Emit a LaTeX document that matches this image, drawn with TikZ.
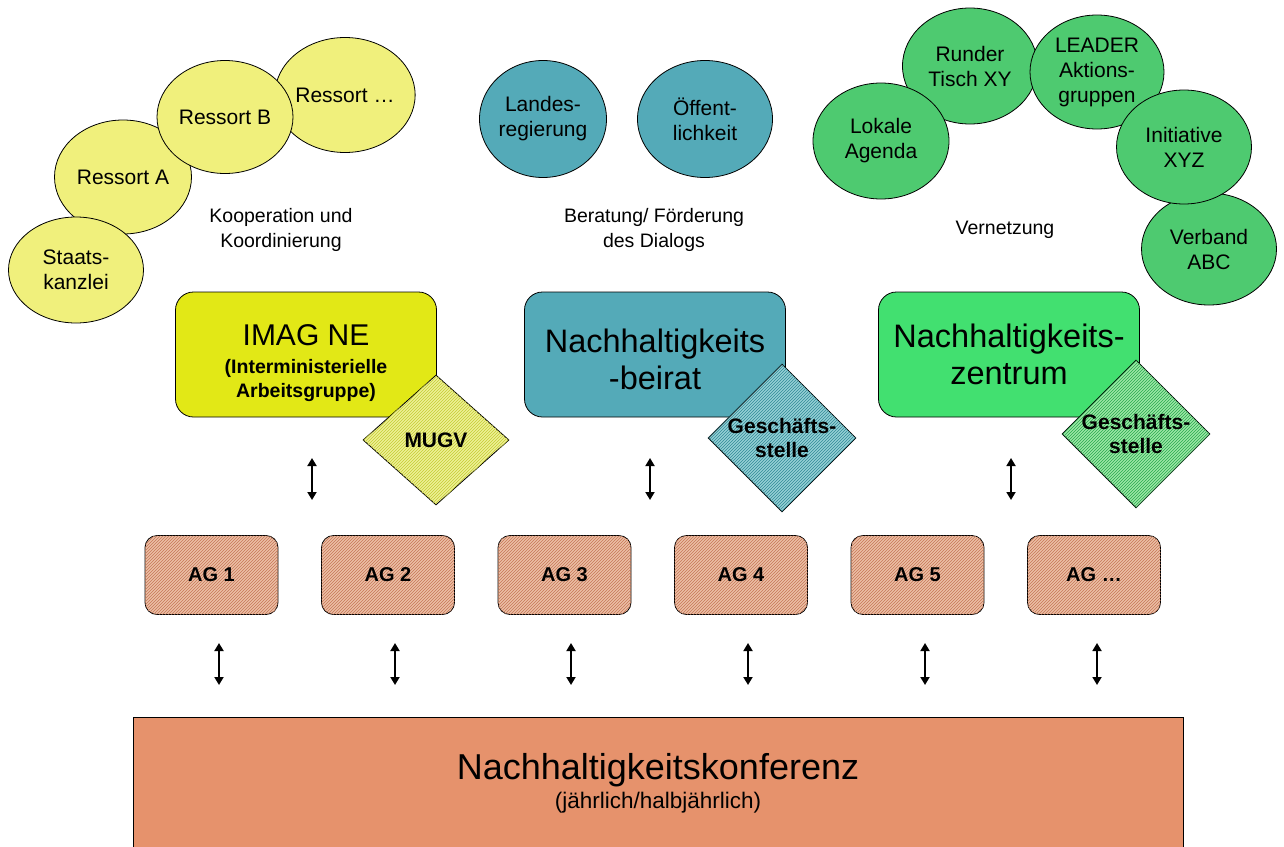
\documentclass[tikz,border=0pt]{standalone}
\usepackage{fontspec}
\setmainfont{Liberation Sans}
\usetikzlibrary{arrows.meta,shapes.geometric,patterns}
\definecolor{koyellow}{RGB}{240,240,124}
\definecolor{imagyellow}{RGB}{226,232,22}
\definecolor{mugvfill}{RGB}{238,240,150}
\definecolor{mugvline}{RGB}{196,204,50}
\definecolor{beteal}{RGB}{84,170,184}
\definecolor{begsfill}{RGB}{150,208,214}
\definecolor{begsline}{RGB}{48,138,150}
\definecolor{nzgreen}{RGB}{78,202,112}
\definecolor{nzbox}{RGB}{66,224,112}
\definecolor{nzgsfill}{RGB}{156,232,166}
\definecolor{nzgsline}{RGB}{40,168,78}
\definecolor{agfill}{RGB}{236,192,166}
\definecolor{agline}{RGB}{198,118,86}
\definecolor{konforange}{RGB}{230,146,108}
\newcommand{\fsz}[2]{\fontsize{#1}{#2}\selectfont}
\newcommand{\subline}[1]{{\bfseries\fsz{19.5}{25}#1}}

\begin{document}
\begin{tikzpicture}[x=1pt, y=-1pt,
  bubble/.style={ellipse, draw=black, line width=0.8pt, inner sep=0pt,
                 align=center, font=\fsz{21}{25}},
  note/.style={align=center, font=\fsz{19.5}{25}},
  bigbox/.style={rounded corners=18pt, draw=black, line width=0.8pt,
                 minimum width=261pt, minimum height=125pt, align=center,
                 font=\fsz{32.5}{37}},
  office/.style={diamond, draw=black, line width=0.8pt, inner sep=0pt,
                 minimum width=146pt, minimum height=130pt, align=center,
                 font=\bfseries\fsz{21}{24}},
  hatch/.style={postaction={pattern=north east lines, pattern color=#1}},
  agbox/.style={rounded corners=12pt, draw=black, line width=0.8pt,
                fill=agfill, hatch=agline, minimum width=133pt,
                minimum height=79pt, font=\bfseries\fsz{20}{24}},
  updown/.style={line width=1.8pt,
                 {Triangle[width=9pt,length=8pt]}-{Triangle[width=9pt,length=8pt]}}]
\useasboundingbox (0,0) rectangle (1284,846);
\clip (0,0) rectangle (1284,846);

% Kooperation und Koordinierung
\node[bubble, fill=koyellow, minimum width=133pt, minimum height=115pt] (ressX) at (345,95) {Ressort …};
\node[bubble, fill=koyellow, minimum width=137pt, minimum height=114pt] (ressA) at (123,177) {Ressort A};
\node[bubble, fill=koyellow, minimum width=136pt, minimum height=113pt] (ressB) at (225,117) {Ressort B};
\node[bubble, fill=koyellow, minimum width=135pt, minimum height=106pt] (staats) at (76,270) {Staats-\\kanzlei};
\node[note] (koop) at (281,230) {Kooperation und\\Koordinierung};

% Beratung
\node[bubble, fill=beteal, minimum width=127pt, minimum height=117pt] (land) at (543,119) {Landes-\\regierung};
\node[bubble, fill=beteal, minimum width=135pt, minimum height=117pt] (oeff) at (705,119) {Öffent-\\lichkeit};
\node[note] (berat) at (654,230) {Beratung/ Förderung\\des Dialogs};

% Vernetzung
\node[bubble, fill=nzgreen, minimum width=135pt, minimum height=116pt] (runder) at (970,66) {Runder\\Tisch XY};
\node[bubble, fill=nzgreen, minimum width=136pt, minimum height=116pt] (lokal) at (881,141) {Lokale\\Agenda};
\node[bubble, fill=nzgreen, minimum width=134pt, minimum height=114pt] (leader) at (1097,72) {LEADER\\Aktions-\\gruppen};
\node[bubble, fill=nzgreen, minimum width=135pt, minimum height=112pt] (verband) at (1209,249) {Verband\\ABC};
\node[bubble, fill=nzgreen, minimum width=135pt, minimum height=114pt] (initiat) at (1184,147) {Initiative\\XYZ};
\node[note] (vernetz) at (1005,230) {Vernetzung};

% Gremien
\node[bigbox, fill=imagyellow, font=\fsz{30}{34}] (imag) at (306,354.5)
  {\rule{0pt}{39pt}IMAG NE\\[-6pt]\subline{(Interministerielle}\\[-10pt]\subline{Arbeitsgruppe)}};
\node[office, fill=mugvfill, hatch=mugvline] (mugv) at (436,440) {MUGV};
\node[bigbox, fill=beteal] (beirat) at (655,354.5) {\rule{0pt}{34pt}Nachhaltigkeits\\-beirat};
\node[office, fill=begsfill, hatch=begsline] (gsBeirat) at (782,438) {Geschäfts-\\stelle};
\node[bigbox, fill=nzbox] (zentrum) at (1009,354.5) {Nachhaltigkeits-\\zentrum};
\node[office, fill=nzgsfill, hatch=nzgsline] (gsZentrum) at (1136,434) {Geschäfts-\\stelle};

\coordinate (imagUp) at (312,458);
\coordinate (imagDn) at (312,500);
\coordinate (beiratUp) at (650,458);
\coordinate (beiratDn) at (650,500);
\coordinate (zentrumUp) at (1011,458);
\coordinate (zentrumDn) at (1011,500);
\draw[updown] (imagUp) -- (imagDn);
\draw[updown] (beiratUp) -- (beiratDn);
\draw[updown] (zentrumUp) -- (zentrumDn);

% Arbeitsgruppen
\node[agbox] (ag1) at (211.5,575) {AG 1};
\node[agbox] (ag2) at (388,575) {AG 2};
\node[agbox] (ag3) at (564.5,575) {AG 3};
\node[agbox] (ag4) at (741,575) {AG 4};
\node[agbox] (ag5) at (917.5,575) {AG 5};
\node[agbox] (ag6) at (1094,575) {AG …};

\coordinate (ag1Up) at (219,643);  \coordinate (ag1Dn) at (219,685);
\coordinate (ag2Up) at (395,643);  \coordinate (ag2Dn) at (395,685);
\coordinate (ag3Up) at (571,643);  \coordinate (ag3Dn) at (571,685);
\coordinate (ag4Up) at (748,643);  \coordinate (ag4Dn) at (748,685);
\coordinate (ag5Up) at (925,643);  \coordinate (ag5Dn) at (925,685);
\coordinate (ag6Up) at (1097,643); \coordinate (ag6Dn) at (1097,685);
\draw[updown] (ag1Up) -- (ag1Dn);
\draw[updown] (ag2Up) -- (ag2Dn);
\draw[updown] (ag3Up) -- (ag3Dn);
\draw[updown] (ag4Up) -- (ag4Dn);
\draw[updown] (ag5Up) -- (ag5Dn);
\draw[updown] (ag6Up) -- (ag6Dn);

% Konferenz
\node[draw=black, line width=0.8pt, fill=konforange, minimum width=1050pt,
      minimum height=133pt, align=center] (konf) at (658,783.5)
  {\fsz{36}{38}Nachhaltigkeitskonferenz\\[4pt] \fsz{22.5}{34}(jährlich/halbjährlich)};
\end{tikzpicture}
\end{document}
